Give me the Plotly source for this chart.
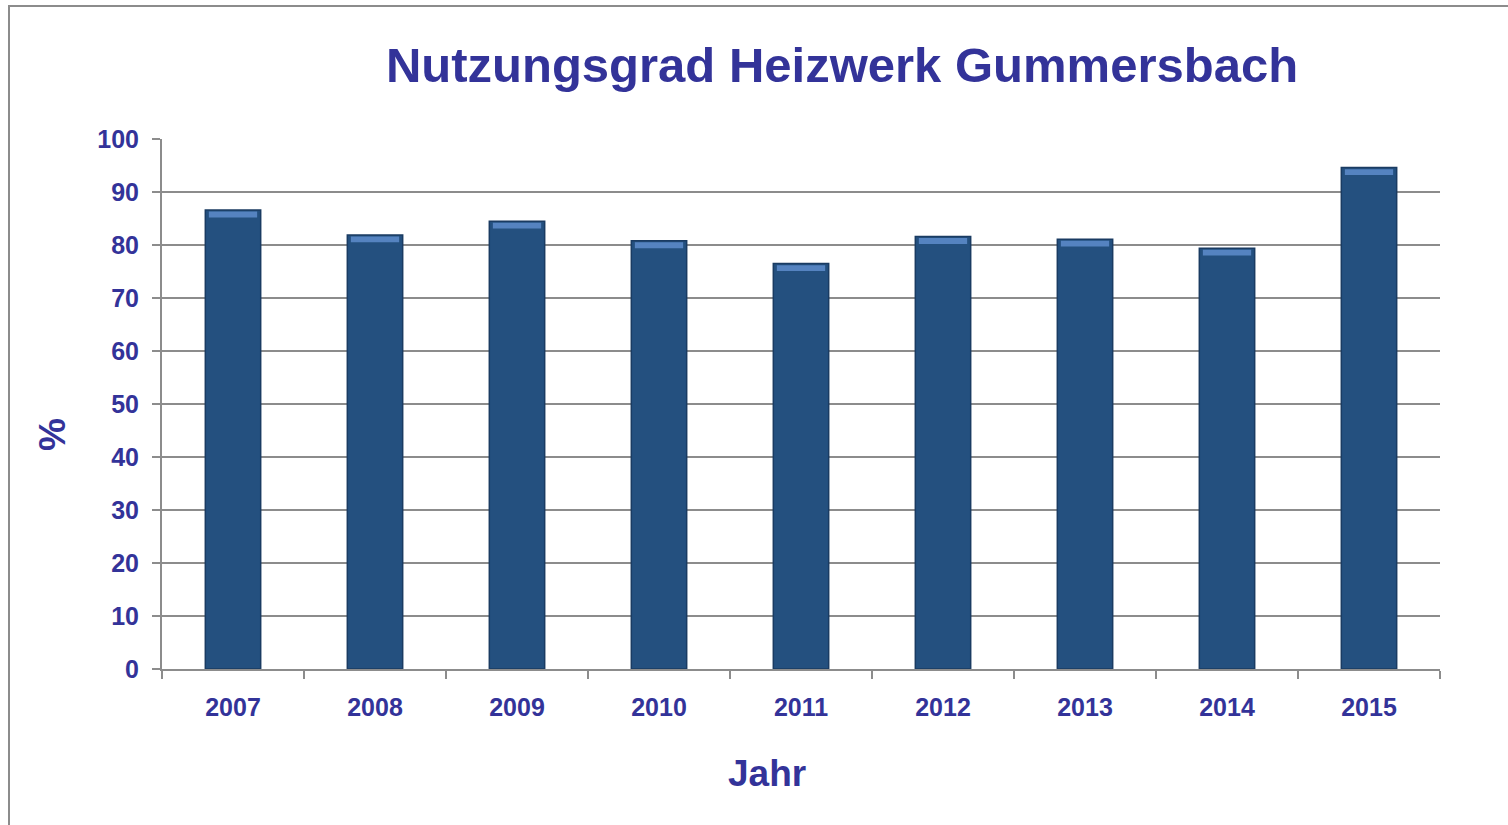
import plotly.graph_objects as go

years = ["2007", "2008", "2009", "2010", "2011", "2012", "2013", "2014", "2015"]
nutzungsgrad = [86.6, 81.9, 84.5, 80.8, 76.5, 81.6, 81.1, 79.4, 94.6]
y_ticks = [0, 10, 20, 30, 40, 50, 60, 70, 80, 90, 100]

TXT = "#333399"
FONT = "Liberation Sans, Arial, sans-serif"

W, H = 1508, 825
L, R, T, B = 162, 68, 139, 825 - 669
pw, ph = W - L - R, H - T - B

def px(x):
    return (x - L) / pw

def py(y):
    return (H - B - y) / ph

fig = go.Figure()
fig.add_trace(go.Bar(
    x=years, y=nutzungsgrad, width=0.39,
    marker=dict(color="#24507f", line=dict(color="#1a3b62", width=1.5)),
    hoverinfo="x+y",
))
# lighter bevel band at top of each bar
fig.add_trace(go.Bar(
    x=years, y=[1.1] * len(years), base=[v - 1.4 for v in nutzungsgrad], width=0.34,
    marker=dict(color="#5583c0", line=dict(width=0)), hoverinfo="skip",
))

fig.update_layout(
    width=W, height=H,
    margin=dict(l=L, r=R, t=T, b=B),
    paper_bgcolor="white", plot_bgcolor="white",
    barmode="overlay", showlegend=False,
    font=dict(family=FONT, color=TXT),
    title=dict(text="<b>Nutzungsgrad Heizwerk Gummersbach</b>",
               xref="paper", x=px(842), xanchor="center",
               yref="container", y=1 - 65 / H, yanchor="middle",
               font=dict(size=49, color=TXT, family=FONT)),
    xaxis=dict(
        type="category", showgrid=False, showline=True, linecolor="#8c8c8c", linewidth=2,
        ticks="outside", tickson="boundaries", ticklen=8, tickcolor="#8c8c8c", tickwidth=2,
        tickfont=dict(size=25, color=TXT, family=FONT, weight="bold"), ticklabelstandoff=15,
    ),
    yaxis=dict(
        range=[0, 100], tickvals=y_ticks, showgrid=True, gridcolor="#8c8c8c", gridwidth=2,
        showline=True, linecolor="#8c8c8c", linewidth=2, zeroline=False,
        ticks="outside", ticklen=8, tickcolor="#8c8c8c", tickwidth=2,
        tickfont=dict(size=25, color=TXT, family=FONT, weight="bold"), ticklabelstandoff=8,
    ),
    annotations=[
        dict(text="<b>Jahr</b>", xref="paper", yref="paper", x=px(767), y=py(773),
             xanchor="center", yanchor="middle", showarrow=False,
             font=dict(size=37, color=TXT, family=FONT)),
        dict(text="<b>%</b>", xref="paper", yref="paper", x=px(52), y=py(435),
             xanchor="center", yanchor="middle", showarrow=False, textangle=-90,
             font=dict(size=37, color=TXT, family=FONT)),
    ],
)

fig.add_shape(type="rect", xref="paper", yref="paper",
              x0=px(9), x1=px(1530), y0=py(850), y1=py(6),
              line=dict(color="#8c8c8c", width=2), fillcolor="rgba(0,0,0,0)", layer="below")

fig.write_html("out.html", config={"displayModeBar": False},
               post_script="document.body.style.margin='0';document.body.style.padding='0';")
